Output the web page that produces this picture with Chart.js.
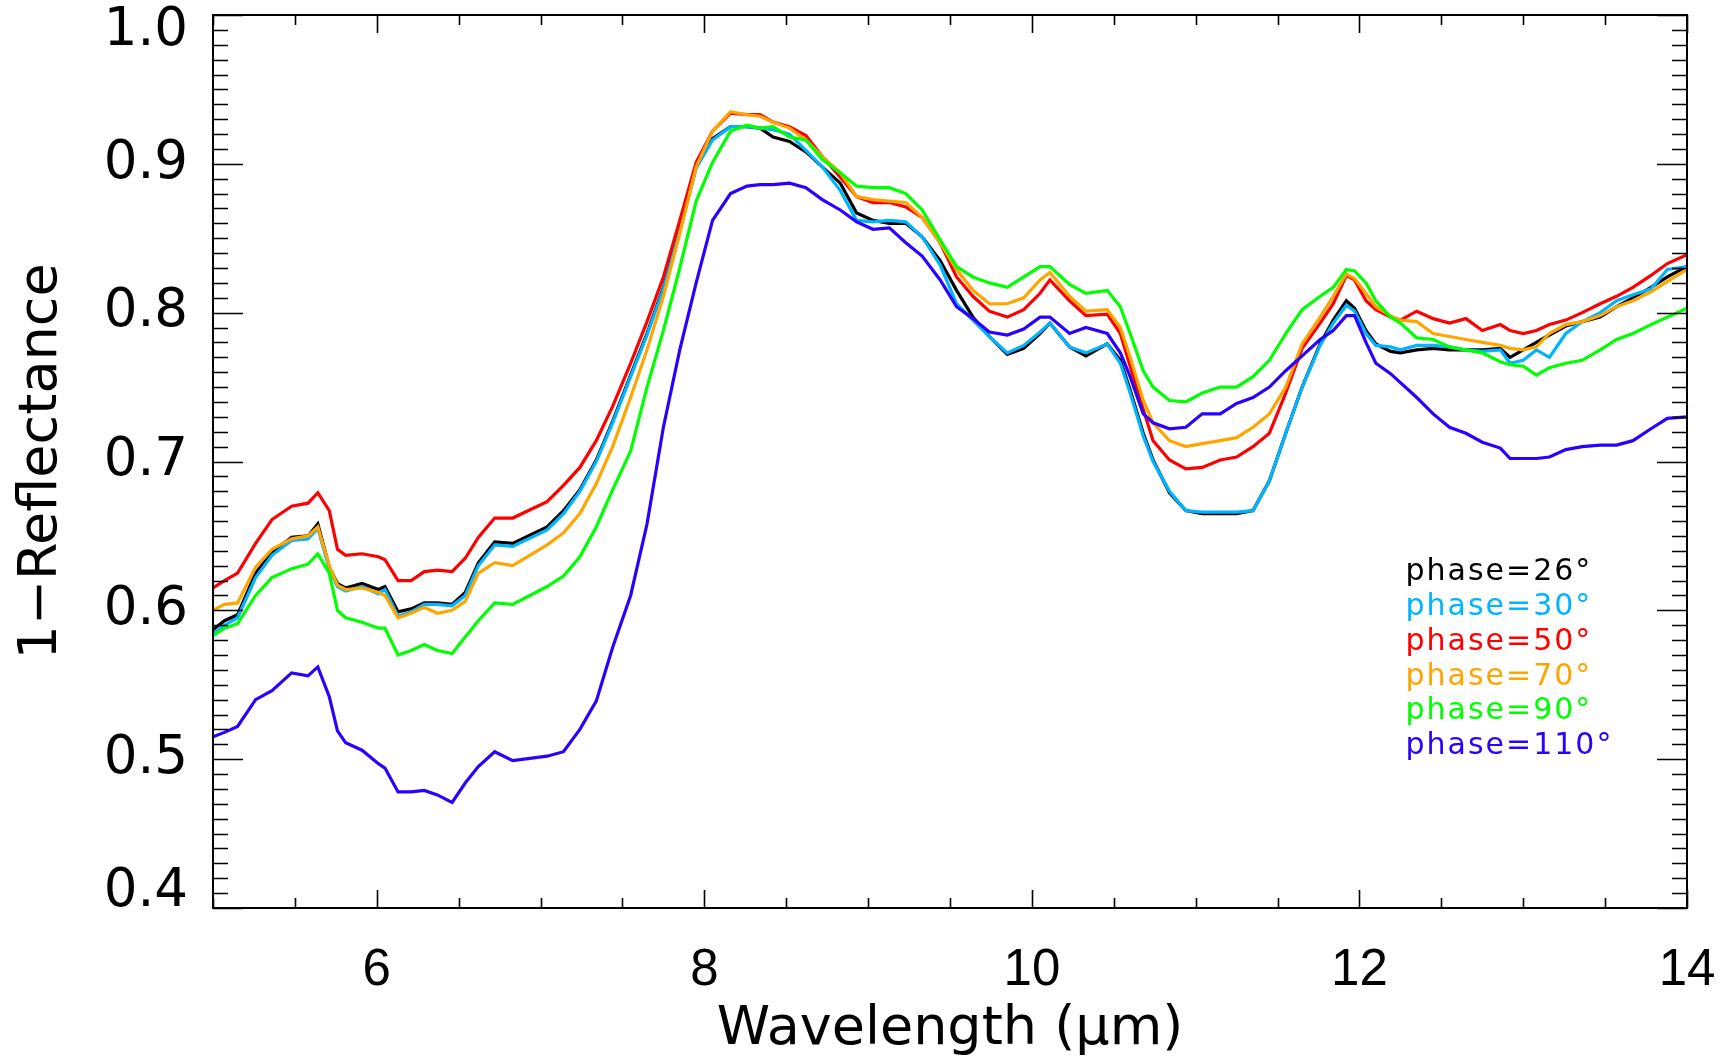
<!DOCTYPE html>
<html>
<head>
<meta charset="utf-8">
<script src="https://cdn.jsdelivr.net/npm/chart.js@4.4.1/dist/chart.umd.min.js"></script>
<style>
  html, body { margin: 0; padding: 0; background: #fff; }
  canvas { display: block; }
</style>
</head>
<body>
<canvas id="spec" width="1736" height="1062"></canvas>
<script>
// Spectra: 1-reflectance vs wavelength (micron)

const wavelength = [
  5.00, 5.07, 5.15, 5.26, 5.36, 5.48, 5.58, 5.64, 5.71, 5.76, 5.81, 5.91, 6.01, 6.05, 6.13, 6.21, 6.29, 6.37, 6.46, 6.54,
  6.62, 6.72, 6.83, 7.04, 7.14, 7.24, 7.34, 7.44, 7.55, 7.65, 7.75, 7.85, 7.95, 8.05, 8.16, 8.26, 8.34, 8.42, 8.52, 8.62,
  8.72, 8.83, 8.93, 9.03, 9.13, 9.23, 9.33, 9.44, 9.54, 9.64, 9.74, 9.85, 9.95, 10.05, 10.11, 10.23, 10.33, 10.46, 10.54, 10.60,
  10.68, 10.74, 10.84, 10.94, 11.04, 11.15, 11.25, 11.35, 11.45, 11.55, 11.65, 11.76, 11.84, 11.92, 11.97, 12.04, 12.10, 12.19, 12.25, 12.35,
  12.45, 12.55, 12.65, 12.75, 12.86, 12.92, 13.00, 13.08, 13.16, 13.26, 13.36, 13.47, 13.57, 13.67, 13.78, 13.88, 14.00
];

const phase26 = [
  .587, .593, .597, .625, .639, .649, .650, .658, .629, .618, .615, .618, .614, .616, .599, .601, .605, .605, .604, .612,
  .632, .646, .645, .656, .667, .681, .701, .727, .758, .786, .817, .856, .898, .917, .925, .925, .924, .918, .915, .908,
  .898, .887, .867, .862, .860, .860, .851, .835, .815, .797, .784, .772, .776, .786, .793, .777, .771, .779, .768, .748,
  .719, .701, .679, .667, .665, .665, .665, .667, .687, .719, .750, .779, .795, .808, .803, .788, .779, .774, .773, .775,
  .776, .775, .775, .775, .776, .770, .775, .780, .785, .791, .794, .797, .804, .810, .817, .824, .831
];

const phase30 = [
  .584, .590, .595, .622, .637, .647, .648, .655, .628, .616, .613, .616, .611, .614, .596, .599, .604, .604, .603, .610,
  .630, .644, .643, .654, .665, .680, .700, .726, .757, .785, .816, .855, .897, .916, .925, .925, .924, .923, .920, .909,
  .898, .882, .862, .861, .862, .861, .851, .832, .806, .795, .784, .773, .778, .787, .793, .777, .773, .779, .766, .746,
  .717, .700, .680, .667, .666, .666, .666, .667, .687, .719, .750, .778, .793, .805, .801, .786, .778, .777, .775, .778,
  .778, .777, .775, .774, .775, .766, .768, .775, .770, .786, .794, .800, .808, .812, .816, .829, .831
];

const phase50 = [
  .615, .620, .625, .645, .661, .670, .672, .679, .667, .641, .637, .638, .636, .634, .620, .620, .626, .627, .626, .635,
  .649, .662, .662, .673, .684, .696, .714, .737, .766, .794, .824, .862, .901, .922, .934, .933, .933, .928, .925, .919,
  .905, .891, .878, .874, .874, .871, .864, .847, .824, .811, .801, .797, .802, .813, .822, .808, .798, .799, .786, .764,
  .735, .714, .701, .695, .696, .701, .703, .710, .719, .746, .776, .793, .806, .825, .822, .808, .802, .797, .795, .801,
  .796, .793, .796, .788, .792, .788, .786, .788, .792, .795, .800, .806, .811, .817, .825, .833, .839
];

const phase70 = [
  .600, .604, .605, .629, .641, .648, .650, .656, .630, .617, .614, .615, .612, .610, .595, .598, .602, .598, .600, .606,
  .625, .632, .630, .644, .652, .665, .685, .710, .743, .775, .811, .853, .898, .922, .935, .933, .932, .928, .924, .916,
  .905, .894, .878, .876, .875, .874, .864, .847, .829, .815, .806, .806, .810, .822, .827, .811, .801, .802, .790, .770,
  .741, .726, .714, .710, .712, .714, .716, .723, .732, .750, .779, .797, .811, .826, .823, .813, .804, .798, .795, .794,
  .786, .784, .782, .780, .778, .776, .775, .777, .786, .792, .794, .798, .804, .808, .814, .821, .829
];

const phase90 = [
  .583, .588, .591, .610, .622, .628, .631, .638, .625, .600, .595, .592, .588, .588, .570, .573, .577, .573, .571, .582,
  .593, .605, .604, .616, .623, .636, .656, .681, .707, .750, .788, .830, .875, .901, .922, .926, .924, .925, .918, .916,
  .903, .894, .885, .884, .884, .880, .869, .849, .831, .824, .820, .817, .824, .831, .831, .819, .813, .815, .804, .786,
  .761, .750, .741, .740, .746, .750, .750, .757, .768, .786, .802, .811, .817, .829, .828, .820, .808, .797, .793, .783,
  .782, .777, .775, .773, .767, .765, .764, .758, .763, .766, .768, .775, .782, .786, .792, .797, .803
];

const phase110 = [
  .515, .518, .522, .540, .546, .558, .556, .562, .542, .519, .511, .506, .497, .494, .478, .478, .479, .476, .471, .484,
  .495, .505, .499, .502, .505, .520, .539, .575, .610, .658, .723, .775, .820, .862, .880, .885, .886, .886, .887, .884,
  .876, .869, .861, .856, .857, .847, .838, .822, .804, .796, .787, .785, .789, .797, .797, .786, .790, .786, .773, .757,
  .732, .726, .722, .723, .732, .732, .739, .743, .750, .761, .771, .782, .788, .798, .798, .780, .766, .759, .753, .743,
  .732, .723, .719, .713, .709, .702, .702, .702, .703, .708, .710, .711, .711, .714, .722, .729, .730
];

const seriesLabels = ["phase=26°", "phase=30°", "phase=50°", "phase=70°", "phase=90°", "phase=110°"];
const seriesColors = ["#000000", "#00b4ff", "#ff0000", "#ffa500", "#00ff00", "#2a00ff"];
const seriesValues = [phase26, phase30, phase50, phase70, phase90, phase110];

const xTickValues = [6, 8, 10, 12, 14];
const yTickValues = [0.4, 0.5, 0.6, 0.7, 0.8, 0.9, 1.0];

function toPoints(values) {
  return wavelength.map((w, i) => ({ x: w, y: values[i] }));
}

// IDL style box: inward major/minor ticks on all four sides, plus legend text
const idlFrame = {
  id: "idlFrame",
  beforeDraw(chart) {
    // IDL pulls the end labels of the y axis inside the box
    const items = chart.scales.y.getLabelItems(chart.chartArea);
    items.forEach(it => {
      if (it._moved) return;
      if (it.label === "1.0") it.options.translation[1] += 16;
      if (it.label === "0.4") it.options.translation[1] -= 16;
      it._moved = true;
    });
  },
  afterDraw(chart) {
    const ctx = chart.ctx;
    const area = chart.chartArea;
    const xs = chart.scales.x;
    const ys = chart.scales.y;
    ctx.save();
    ctx.strokeStyle = "#000";
    ctx.lineWidth = 2;
    ctx.strokeRect(area.left, area.top, area.right - area.left, area.bottom - area.top);

    ctx.lineWidth = 1.6;
    ctx.beginPath();
    for (let i = 0; i <= 18; i++) {
      const v = 5 + i * 0.5;
      const px = Math.round(xs.getPixelForValue(v)) + 0.5;
      const len = xTickValues.includes(v) ? 18 : 10;
      ctx.moveTo(px, area.bottom);
      ctx.lineTo(px, area.bottom - len);
      ctx.moveTo(px, area.top);
      ctx.lineTo(px, area.top + len);
    }
    for (let i = 0; i <= 60; i++) {
      const v = 0.4 + i * 0.01;
      const py = Math.round(ys.getPixelForValue(v)) + 0.5;
      const len = i % 10 === 0 ? 30 : 15;
      ctx.moveTo(area.left, py);
      ctx.lineTo(area.left + len, py);
      ctx.moveTo(area.right, py);
      ctx.lineTo(area.right - len, py);
    }
    ctx.stroke();

    // legend block, lower right inside the box
    const lx = area.left + (area.right - area.left) * 0.809;
    const ly = area.top + (area.bottom - area.top) * 0.633;
    ctx.font = "30px 'DejaVu Sans'";
    ctx.letterSpacing = "2px";
    ctx.textAlign = "left";
    ctx.textBaseline = "alphabetic";
    chart.data.datasets.forEach((ds, i) => {
      ctx.fillStyle = ds.borderColor;
      ctx.fillText(ds.label, lx, ly + i * 34.8);
    });
    ctx.restore();
  }
};

const datasets = seriesValues.map((vals, i) => ({
  label: seriesLabels[i],
  data: toPoints(vals),
  borderColor: seriesColors[i],
  backgroundColor: seriesColors[i],
  borderWidth: 3.2,
  pointRadius: 0,
  tension: 0,
  fill: false,
  order: seriesValues.length - 1 - i,
}));

new Chart(document.getElementById("spec").getContext("2d"), {
  type: "line",
  data: { datasets: datasets },
  options: {
    responsive: false,
    animation: false,
    layout: { padding: { left: 0, right: 49, top: 15, bottom: 0 } },
    plugins: {
      legend: { display: false },
      tooltip: { enabled: false },
    },
    scales: {
      x: {
        type: "linear",
        min: 5,
        max: 14,
        grid: { display: false, drawTicks: false },
        border: { display: false },
        afterBuildTicks: scale => {
          scale.ticks = xTickValues.map(v => ({ value: v }));
        },
        afterFit: scale => {
          scale.height = 154;
          scale.paddingLeft = 0;
          scale.paddingRight = 0;
        },
        ticks: {
          padding: 32,
          color: "#000",
          font: { family: "'Liberation Sans'", size: 51 },
          callback: v => String(v),
        },
        title: {
          display: true,
          text: "Wavelength (µm)",
          color: "#000",
          font: { family: "'DejaVu Sans'", size: 54 },
          padding: { top: 0, bottom: 0 },
        },
      },
      y: {
        type: "linear",
        min: 0.4,
        max: 1.0,
        grid: { display: false, drawTicks: false },
        border: { display: false },
        afterBuildTicks: scale => {
          scale.ticks = yTickValues.map(v => ({ value: v }));
        },
        afterFit: scale => {
          scale.width = 213;
          scale.paddingTop = 0;
          scale.paddingBottom = 0;
        },
        ticks: {
          padding: 25,
          color: "#000",
          font: { family: "'DejaVu Sans'", size: 53 },
          callback: v => v.toFixed(1),
        },
        title: {
          display: true,
          text: "1\u2212Reflectance",
          color: "#000",
          font: { family: "'DejaVu Sans'", size: 54 },
          padding: { top: 10, bottom: 0 },
        },
      },
    },
  },
  plugins: [idlFrame],
});
</script>
</body>
</html>
